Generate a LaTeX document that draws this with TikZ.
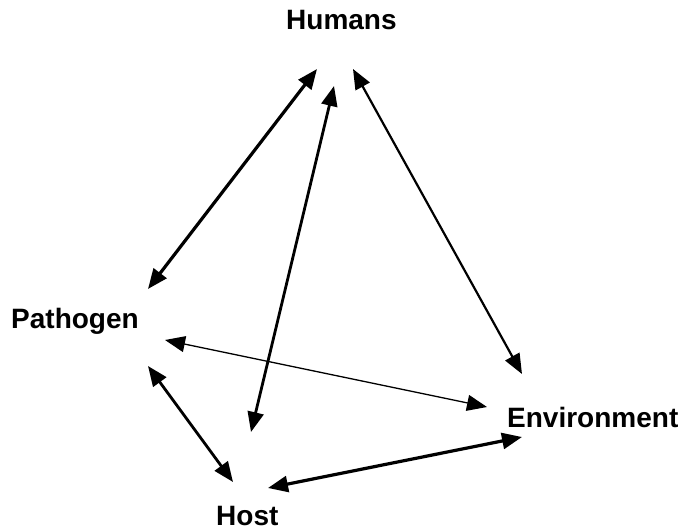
\documentclass[tikz,border=0pt]{standalone}
\usepackage{fontspec}
\setmainfont{Liberation Sans}
\usetikzlibrary{arrows.meta}
\tikzset{
  lbl/.style={anchor=base west, inner sep=0pt, font=\fontsize{28}{30}\selectfont\bfseries},
  link/.style={{Triangle[length=20pt,width=16pt]}-{Triangle[length=20pt,width=16pt]}, line width=#1},
  link/.default=2.6pt
}
\begin{document}
\begin{tikzpicture}[x=1pt,y=-1pt]
\useasboundingbox (0,0) rectangle (686,530);
\node[lbl] (humans) at (286,30) {Humans};
\node[lbl] (pathogen) at (11,328) {Pathogen};
\node[lbl] (env) at (507,427) {Environment};
\node[lbl] (host) at (216,525) {Host};
% connector ends
\coordinate (hp1) at (317,69);  \coordinate (hp2) at (148,289);
\coordinate (hh1) at (334,86);  \coordinate (hh2) at (251,432);
\coordinate (he1) at (353,69);  \coordinate (he2) at (522,374);
\coordinate (pe1) at (165,340); \coordinate (pe2) at (487,407);
\coordinate (ph1) at (148,366); \coordinate (ph2) at (233,482);
\coordinate (se1) at (268,488); \coordinate (se2) at (522,437);
\draw[link=3.2pt] (hp1) -- (hp2);
\draw[link=2.8pt] (hh1) -- (hh2);
\draw[link=2.2pt] (he1) -- (he2);
\draw[link=1.3pt] (pe1) -- (pe2);
\draw[link=2.8pt] (ph1) -- (ph2);
\draw[link=3.2pt] (se1) -- (se2);
\end{tikzpicture}
\end{document}
